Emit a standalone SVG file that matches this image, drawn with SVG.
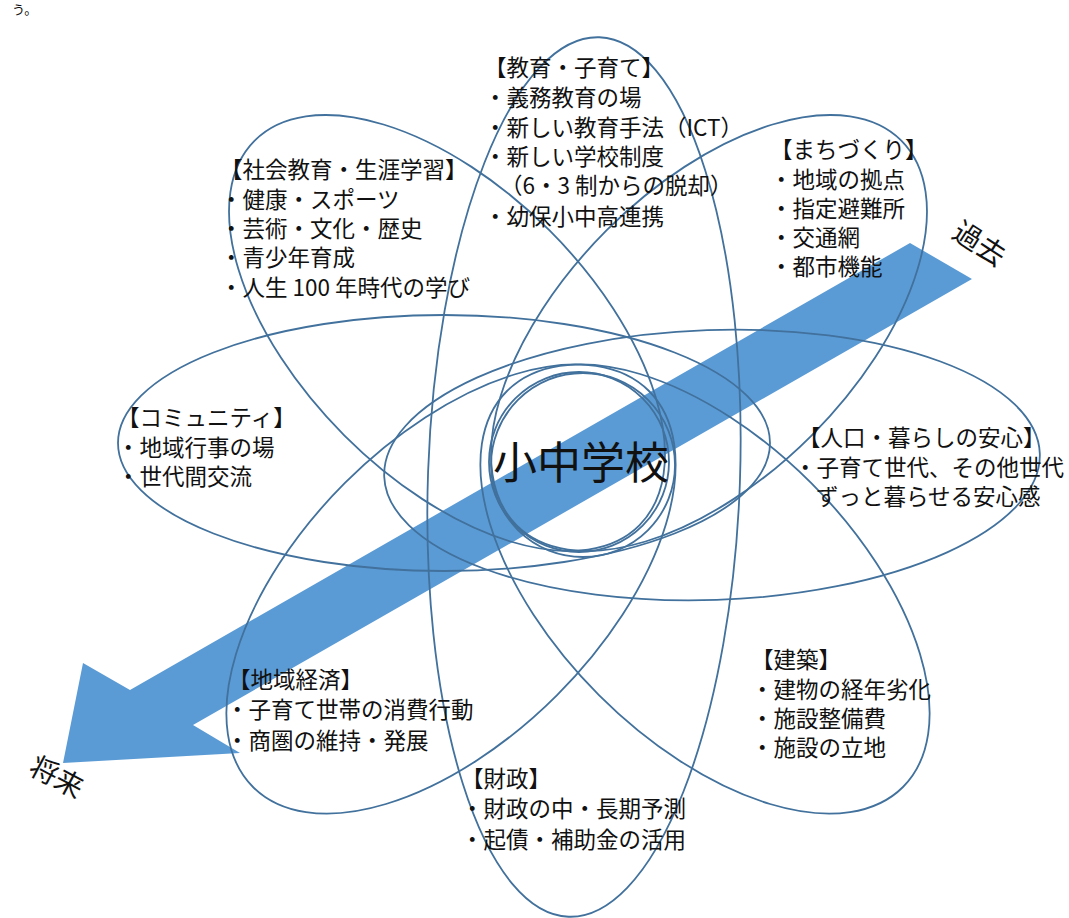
<svg xmlns="http://www.w3.org/2000/svg" width="1069" height="918" viewBox="0 0 1069 918">
<style>
.pet{fill:none;stroke:#41719C;stroke-width:1.8}
.t{font-family:"Noto Sans CJK JP","Noto Sans CJK SC",sans-serif;font-size:22.5px;fill:#111}
.big{font-family:"Noto Sans CJK JP","Noto Sans CJK SC",sans-serif;font-size:44px;fill:#111}
.lab{font-family:"Noto Sans CJK JP","Noto Sans CJK SC",sans-serif;font-size:28px;fill:#111}
.top{font-family:"Noto Sans CJK JP","Noto Sans CJK SC",sans-serif;font-size:13px;fill:#111}
</style>
<rect width="1069" height="918" fill="#fff"/>
<text class="top" x="12" y="14">う。</text>
<g id="arrow"><polygon points="910,243 972,279 193,725 240,753 63,763 83,663 130,690" fill="#5B9BD5"/></g>
<g id="connectors">
<ellipse id="e-vertical" class="pet" cx="584" cy="477" rx="156" ry="440" transform="rotate(2 584 477)"/>
<ellipse id="e-left" class="pet" cx="444" cy="443" rx="326" ry="128"/>
<ellipse id="e-right" class="pet" cx="712" cy="465" rx="328" ry="135" transform="rotate(-2 712 465)"/>
<ellipse id="e-ul" class="pet" cx="447" cy="333" rx="272" ry="145" transform="rotate(45 447 333)"/>
<ellipse id="e-ur" class="pet" cx="709" cy="333" rx="272" ry="145" transform="rotate(-45 709 333)"/>
<ellipse id="e-ll" class="pet" cx="451" cy="589" rx="280" ry="150" transform="rotate(-45 451 589)"/>
<ellipse id="e-lr" class="pet" cx="705" cy="589" rx="280" ry="150" transform="rotate(45 705 589)"/>
<circle class="pet" cx="579" cy="462" r="90"/>
<circle class="pet" cx="583" cy="465" r="92"/>
</g>
<g id="center"><text class="big" x="581" y="479" text-anchor="middle">小中学校</text></g>
<g id="n-kyoiku"><text class="t" x="484" y="76">【教育・子育て】</text><text class="t" x="484" y="106">・義務教育の場</text><text class="t" x="484" y="136">・新しい教育手法（ICT）</text><text class="t" x="484" y="165">・新しい学校制度</text><text class="t" x="500" y="194">（6・3 制からの脱却）</text><text class="t" x="484" y="225">・幼保小中高連携</text></g>
<g id="n-shakai"><text class="t" x="220" y="178">【社会教育・生涯学習】</text><text class="t" x="220" y="208">・健康・スポーツ</text><text class="t" x="220" y="237">・芸術・文化・歴史</text><text class="t" x="220" y="266">・青少年育成</text><text class="t" x="220" y="296">・人生 100 年時代の学び</text></g>
<g id="n-machi"><text class="t" x="770" y="158">【まちづくり】</text><text class="t" x="770" y="188">・地域の拠点</text><text class="t" x="770" y="217">・指定避難所</text><text class="t" x="770" y="246">・交通網</text><text class="t" x="770" y="275">・都市機能</text></g>
<g id="n-comm"><text class="t" x="117" y="426">【コミュニティ】</text><text class="t" x="117" y="456">・地域行事の場</text><text class="t" x="117" y="485">・世代間交流</text></g>
<g id="n-jinko"><text class="t" x="798" y="446">【人口・暮らしの安心】</text><text class="t" x="794" y="476">・子育て世代、その他世代</text><text class="t" x="816" y="505">ずっと暮らせる安心感</text></g>
<g id="n-keizai"><text class="t" x="228" y="688">【地域経済】</text><text class="t" x="226" y="718">・子育て世帯の消費行動</text><text class="t" x="226" y="749">・商圏の維持・発展</text></g>
<g id="n-zaisei"><text class="t" x="461" y="787">【財政】</text><text class="t" x="461" y="817">・財政の中・長期予測</text><text class="t" x="461" y="848">・起債・補助金の活用</text></g>
<g id="n-kenchiku"><text class="t" x="751" y="668">【建築】</text><text class="t" x="751" y="698">・建物の経年劣化</text><text class="t" x="751" y="727">・施設整備費</text><text class="t" x="751" y="756">・施設の立地</text></g>
<g id="time"><text class="lab" transform="translate(974,252) rotate(33)" text-anchor="middle">過去</text><text class="lab" transform="translate(52,786) rotate(28)" text-anchor="middle">将来</text></g>
</svg>
